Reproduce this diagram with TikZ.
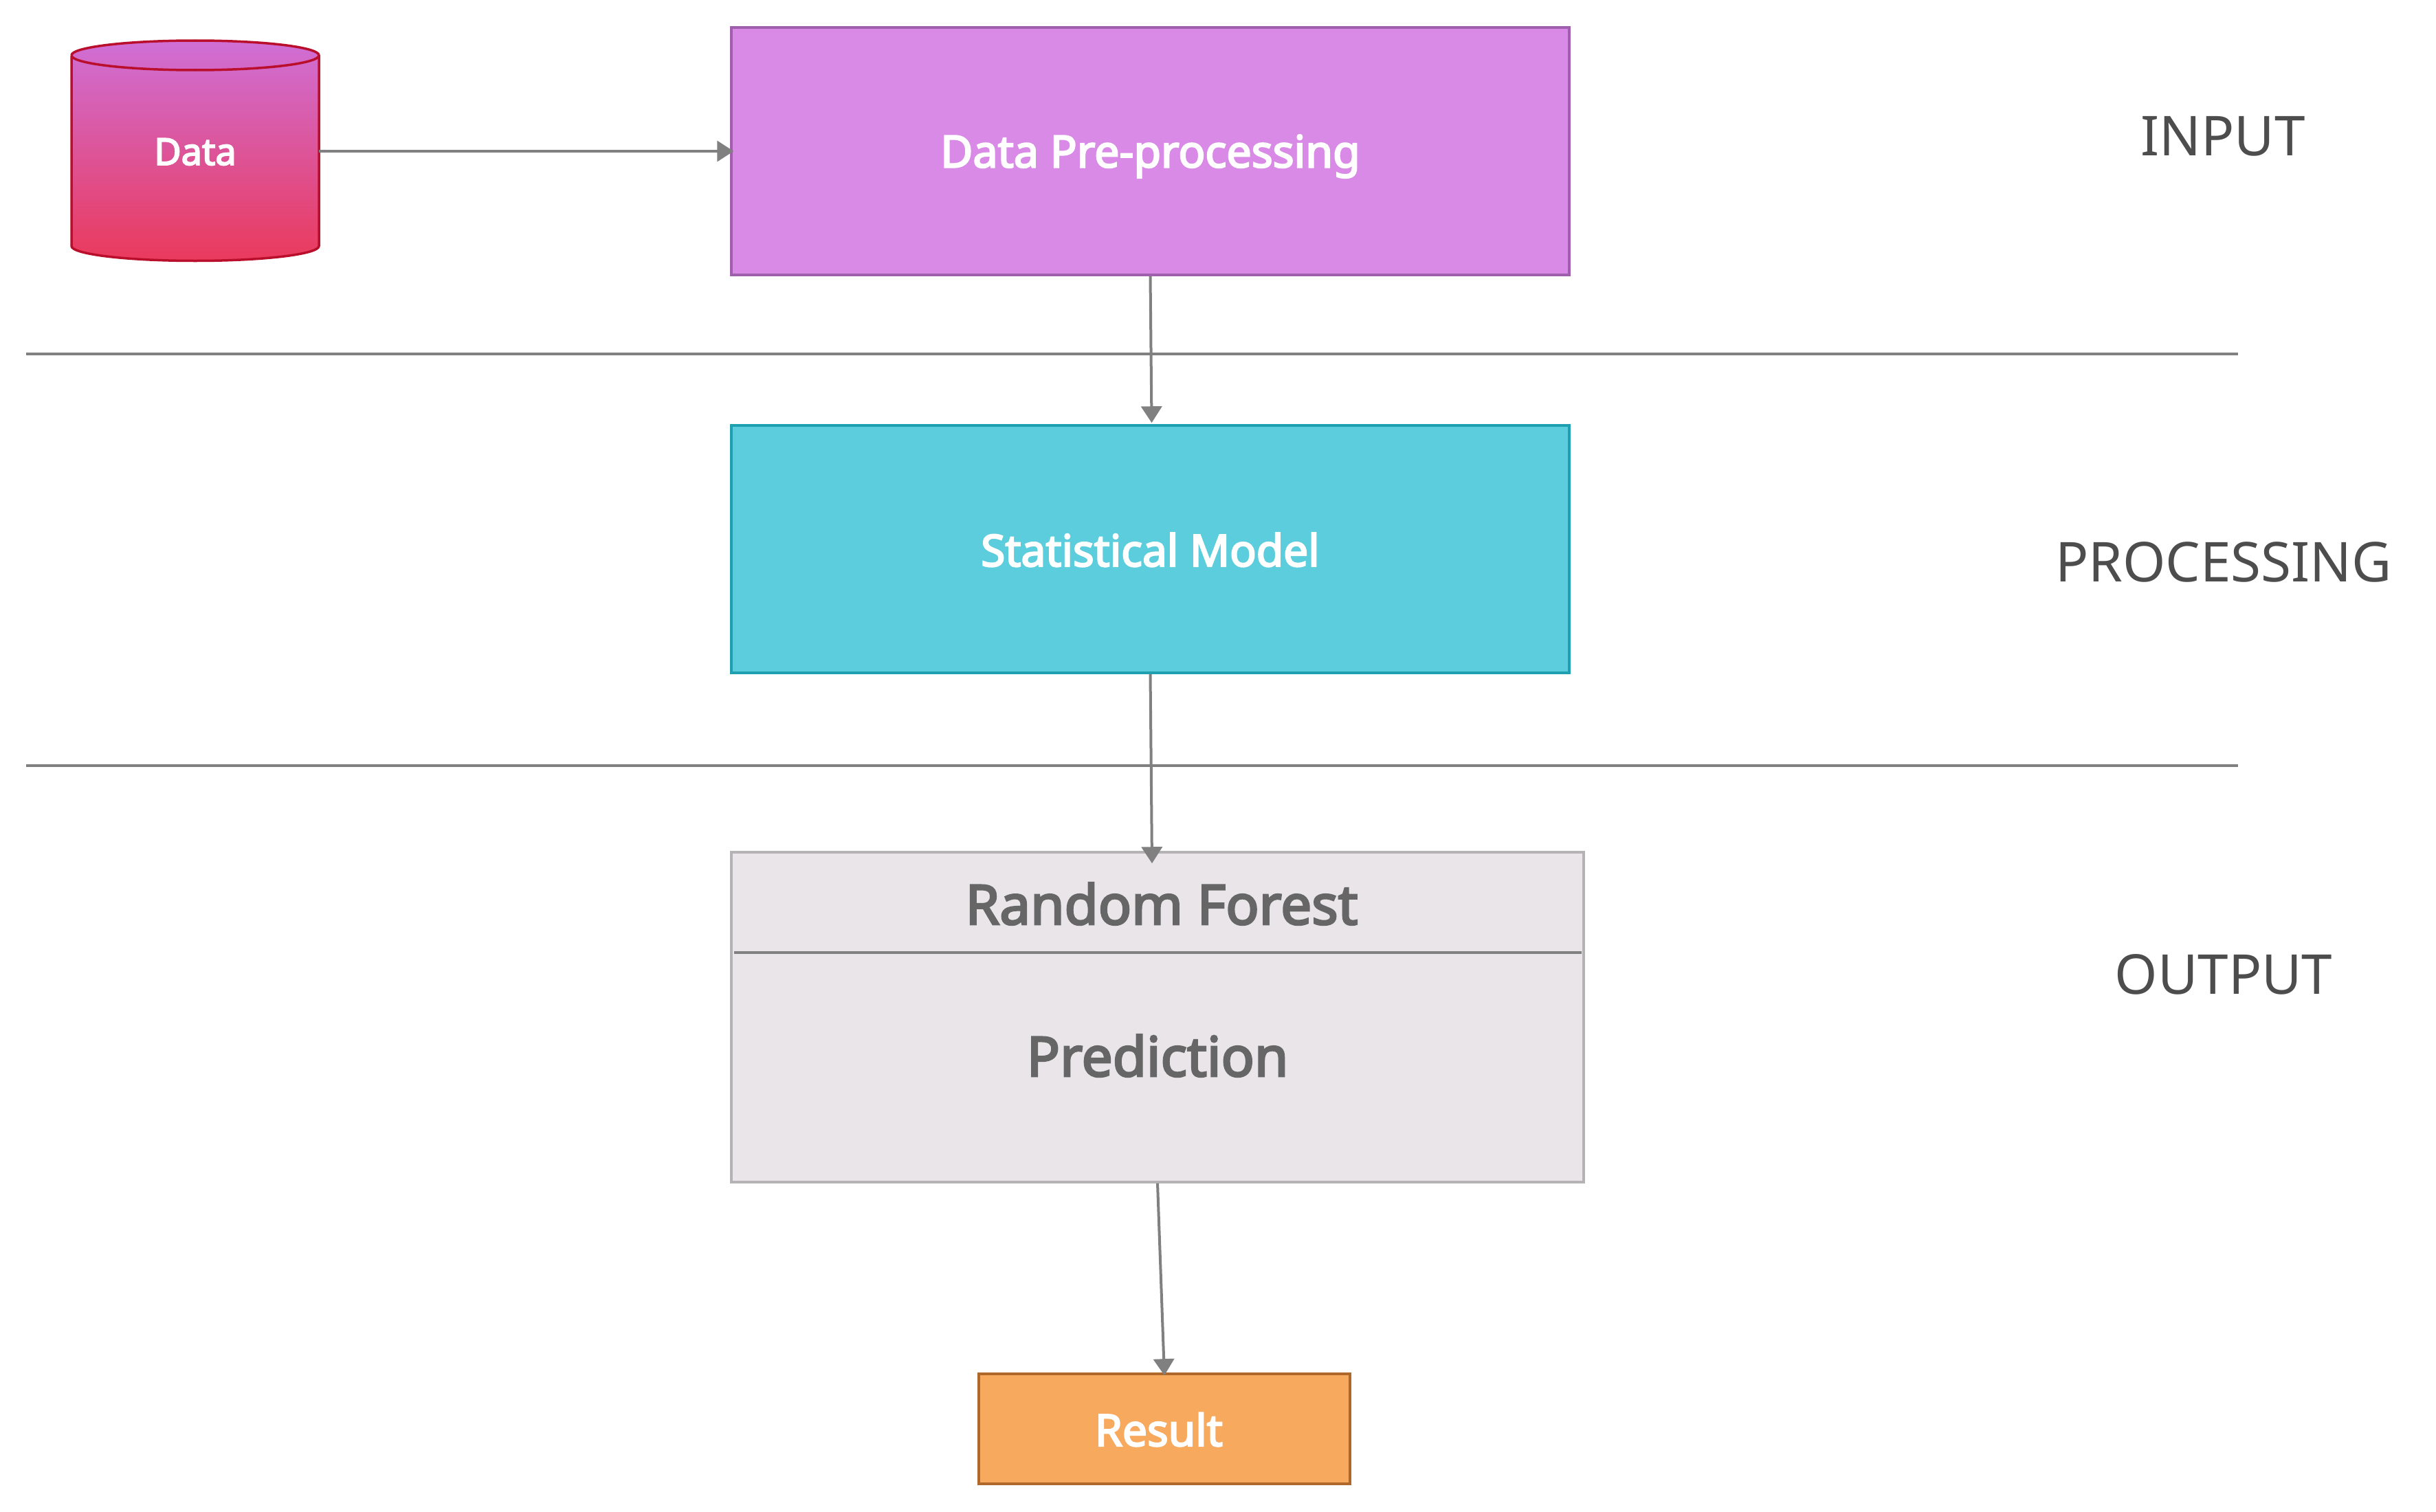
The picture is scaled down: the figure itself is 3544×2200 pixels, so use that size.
\documentclass[tikz,border=0pt]{standalone}
\usepackage{fontspec}
\setmainfont{Noto Sans}
\newfontfamily\medfont[FakeBold=3.5]{Noto Sans}
\usetikzlibrary{arrows.meta}
\definecolor{preFill}{HTML}{D98AE6}
\definecolor{preLine}{HTML}{A05FAC}
\definecolor{statFill}{HTML}{5CCDDC}
\definecolor{statLine}{HTML}{1FA0B0}
\definecolor{rfFill}{HTML}{E9E5E9}
\definecolor{rfLine}{HTML}{B5B3B5}
\definecolor{resFill}{HTML}{F7A95E}
\definecolor{resLine}{HTML}{B0682A}
\definecolor{cylTop}{HTML}{CF6FD6}
\definecolor{cylBot}{HTML}{EA3A5C}
\definecolor{cylLine}{HTML}{B90E2C}
\definecolor{conn}{HTML}{808080}
\definecolor{rfText}{HTML}{666666}
\definecolor{sideText}{HTML}{4D4D4D}
\tikzset{
  boxnode/.style={draw,rectangle,line width=3.5pt,inner sep=0pt,text=white,font=\medfont\fontsize{#1}{#1}\selectfont,align=center},
  plain/.style={inner sep=0pt,anchor=base},
  sidelabel/.style={plain,text=sideText,font=\fontsize{80}{80}\selectfont},
  rflabel/.style={plain,text=rfText,font=\medfont\fontsize{80}{80}\selectfont},
  connector/.style={draw=conn,line width=4pt,-{Triangle[length=24pt,width=30pt]}},
  rule/.style={draw=conn,line width=4pt}
}
\begin{document}
\begin{tikzpicture}[x=1pt,y=-1pt]
\useasboundingbox (0,0) rectangle (3544,2200);
% cylinder
\shade[top color=cylTop,bottom color=cylBot]
  (104,80.5) arc[x radius=180,y radius=21.5,start angle=180,end angle=360]
  -- (464,358) arc[x radius=180,y radius=21.5,start angle=0,end angle=180] -- cycle;
\draw[cylLine,line width=3.5pt]
  (104,80.5) arc[x radius=180,y radius=21.5,start angle=180,end angle=540]
  (104,80.5) -- (104,358) arc[x radius=180,y radius=21.5,start angle=180,end angle=0] -- (464,80.5);
\node[inner sep=0pt,minimum width=360pt,minimum height=320pt,text=white,text height=38pt,text depth=0pt,font=\medfont\fontsize{54}{54}\selectfont] (data) at (284,221) {Data};
% boxes
\node[boxnode=64.5,draw=preLine,fill=preFill,minimum width=1219pt,minimum height=360pt,text height=47pt,text depth=0pt] (pre) at (1673.5,220) {Data Pre-processing};
\node[boxnode=64,draw=statLine,fill=statFill,minimum width=1219pt,minimum height=360pt,text height=50pt,text depth=0pt] (stat) at (1673.5,799) {Statistical Model};
\node[boxnode=64,draw=rfLine,fill=rfFill,minimum width=1240pt,minimum height=480pt] (rf) at (1684,1480) {};
\node[boxnode=64,draw=resLine,fill=resFill,minimum width=540pt,minimum height=160pt,text height=50pt,text depth=0pt] (res) at (1694,2079) {\hspace*{-16pt}Result};
% random forest contents
\coordinate (divL) at (1068,1386);
\coordinate (divR) at (2301,1386);
\draw[rule] (divL) -- (divR);
\node[rflabel] (rftitle) at (1690,1345) {Random Forest};
\node[rflabel] (rfbody) at (1684,1566) {Prediction};
% separators
\coordinate (r1L) at (38,514.5);
\coordinate (r1R) at (3256,514.5);
\coordinate (r2L) at (38,1114);
\coordinate (r2R) at (3256,1114);
\draw[rule] (r1L) -- (r1R);
\draw[rule] (r2L) -- (r2R);
% side labels
\node[sidelabel] (input) at (3234,226) {INPUT};
\node[sidelabel] (processing) at (3235,846) {PROCESSING};
\node[sidelabel] (output) at (3235,1446) {OUTPUT};
% connectors
\draw[connector] (data.east |- 0,220) -- ([xshift=5pt]pre.west);
\draw[connector] (pre.south) -- ([xshift=2pt,yshift=2pt]stat.north);
\draw[connector] (stat.south) -- ([xshift=-8pt,yshift=-18pt]rf.north);
\draw[connector] (rf.south) -- ([yshift=-4pt]res.north);
\end{tikzpicture}
\end{document}
